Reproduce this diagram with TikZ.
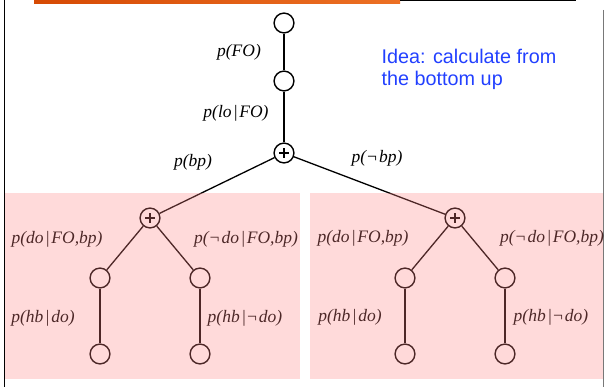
\documentclass[tikz,border=0pt]{standalone}
\usepackage{fontspec}
\setmainfont{Liberation Serif}
\newfontfamily\sansf{Liberation Sans}
\definecolor{barleft}{RGB}{214,74,4}
\definecolor{barright}{RGB}{236,112,36}
\definecolor{overlay}{RGB}{255,132,132}
\definecolor{ideablue}{RGB}{34,64,255}
\definecolor{bordergrey}{RGB}{120,120,120}
\begin{document}
\begin{tikzpicture}[x=1pt,y=-1pt,
  ball/.style={circle, draw, line width=1.4pt, minimum size=19.8pt, inner sep=0pt, fill=white},
  plusball/.style={ball, path picture={
     \draw[line width=2.3pt] ([xshift=-4.6pt]path picture bounding box.center) -- ([xshift=4.6pt]path picture bounding box.center);
     \draw[line width=2.3pt] ([yshift=-4.6pt]path picture bounding box.center) -- ([yshift=4.6pt]path picture bounding box.center);}},
  lbl/.style={font=\itshape\fontsize{17.5}{20}\selectfont, inner sep=0pt},
  link/.style={line width=1.3pt},
  panel/.style={fill=overlay, fill opacity=0.3, draw=none}]
\useasboundingbox (0,0) rectangle (605,387);
% frame
\shade[left color=barleft, right color=barright] (34,0) rectangle (400,3.6);
\draw[line width=1pt] (400,0.5) -- (576,0.5);
\draw[line width=1.5pt] (4.5,0) -- (4.5,387);
\draw[line width=1.2pt, bordergrey] (603.6,10) -- (603.6,387);
% tree nodes
\node[ball] (top) at (284,23) {};
\node[ball] (mid) at (284,81) {};
\node[plusball] (root) at (284,153) {};
\node[plusball] (lp) at (150,218) {};
\node[plusball] (rp) at (455,218) {};
\node[ball] (lpa) at (100,278) {};
\node[ball] (lpb) at (200,278) {};
\node[ball] (lpc) at (100,354) {};
\node[ball] (lpd) at (200,354) {};
\node[ball] (rpa) at (405,278) {};
\node[ball] (rpb) at (505,278) {};
\node[ball] (rpc) at (405,354) {};
\node[ball] (rpd) at (505,354) {};
% links
\draw[link] (top) -- (mid);
\draw[link] (mid) -- (root);
\draw[link] (root) -- (lp);
\draw[link] (root) -- (rp);
\draw[link] (lp) -- (lpa);
\draw[link] (lp) -- (lpb);
\draw[link] (lpa) -- (lpc);
\draw[link] (lpb) -- (lpd);
\draw[link] (rp) -- (rpa);
\draw[link] (rp) -- (rpb);
\draw[link] (rpa) -- (rpc);
\draw[link] (rpb) -- (rpd);
% labels
\node[lbl] (l1) at (239,52) {p(FO)};
\node[lbl] (l2) at (236,113) {p(lo\kern1.5pt|\kern1.5pt FO)};
\node[lbl] (l3) at (193,162) {p(bp)};
\node[lbl] (l4) at (377,158) {p(¬\kern1pt bp)};
\node[lbl] (l5) at (57,239) {p(do\kern1.5pt|\kern1.5pt FO,bp)};
\node[lbl] (l6) at (246,239) {p(¬\kern1pt do\kern1.5pt|\kern1.5pt FO,bp)};
\node[lbl] (l7) at (43,318) {p(hb\kern1.5pt|\kern1.5pt do)};
\node[lbl] (l8) at (245,318) {p(hb\kern1.5pt|¬\kern1pt do)};
\node[lbl] (l9) at (363,238) {p(do\kern1.5pt|\kern1.5pt FO,bp)};
\node[lbl] (l10) at (552,238) {p(¬\kern1pt do\kern1.5pt|\kern1.5pt FO,bp)};
\node[lbl] (l11) at (350,317) {p(hb\kern1.5pt|\kern1.5pt do)};
\node[lbl] (l12) at (551,317) {p(hb\kern1.5pt|¬\kern1pt do)};
% idea text
\node[anchor=north west, inner sep=0pt, align=left, text=ideablue,
      font=\sansf\fontsize{19.8}{21.5}\selectfont] (idea) at (381.5,49) {Idea: calculate from\\the bottom up};
% panels
\fill[panel] (5.3,193) rectangle (300,378.5);
\fill[panel] (310,193) rectangle (603,378.5);
\end{tikzpicture}
\end{document}
